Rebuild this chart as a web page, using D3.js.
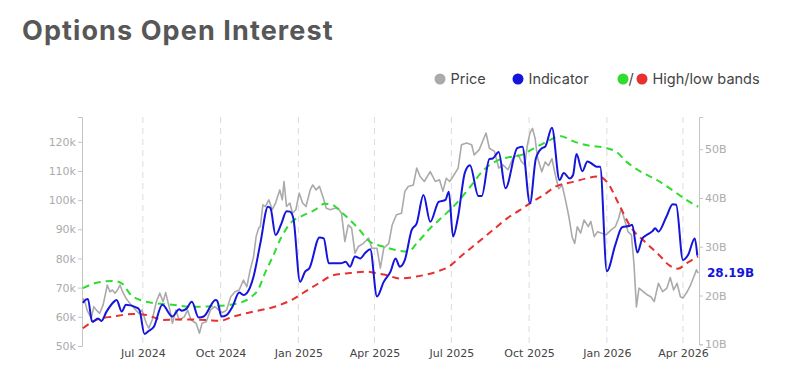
<!DOCTYPE html>
<html>
<head>
<meta charset="utf-8">
<script src="https://cdn.jsdelivr.net/npm/d3@7"></script>
<style>
  body { margin: 0; background: #fff; }
  svg { display: block; }
</style>
</head>
<body>
<div id="chart"></div>
<script>
// price (k USD, left axis)
const priceSeries = [
  ["2024-04-21",66.4],["2024-04-24",64.6],["2024-04-26",62.3],["2024-05-01",59.5],["2024-05-04",63.5],
  ["2024-05-07",62.3],["2024-05-11",61.2],["2024-05-15",64.1],["2024-05-20",70.9],["2024-05-23",68.6],
  ["2024-05-26",69.2],["2024-05-29",68.1],["2024-06-01",69.2],["2024-06-04",70.9],["2024-06-07",68.6],
  ["2024-06-11",66.4],["2024-06-17",64.1],["2024-06-21",62.9],["2024-06-26",61.2],["2024-06-30",62.3],
  ["2024-07-05",57.8],["2024-07-08",56.1],["2024-07-12",58.9],["2024-07-17",65.2],["2024-07-21",68.1],
  ["2024-07-25",65.2],["2024-07-28",68.3],["2024-08-02",62.3],["2024-08-05",57.8],["2024-08-09",62.3],
  ["2024-08-13",58.9],["2024-08-19",60.0],["2024-08-23",62.3],["2024-08-27",58.9],["2024-09-02",57.8],
  ["2024-09-06",54.4],["2024-09-09",57.8],["2024-09-14",58.3],["2024-09-19",62.3],["2024-09-24",63.5],
  ["2024-09-29",62.3],["2024-10-03",61.4],["2024-10-08",62.3],["2024-10-13",66.9],["2024-10-18",68.6],
  ["2024-10-23",69.2],["2024-10-28",72.6],["2024-11-01",70.3],["2024-11-05",76.1],["2024-11-09",80.6],
  ["2024-11-12",87.5],["2024-11-15",90.4],["2024-11-17",90.9],["2024-11-20",98.4],["2024-11-23",97.8],
  ["2024-11-27",100.1],["2024-12-01",96.7],["2024-12-05",99.0],["2024-12-10",103.5],["2024-12-13",100.1],
  ["2024-12-15",106.4],["2024-12-18",97.8],["2024-12-22",99.0],["2024-12-25",95.5],["2024-12-29",96.7],
  ["2025-01-02",102.4],["2025-01-06",99.0],["2025-01-10",97.8],["2025-01-15",103.5],["2025-01-18",105.2],
  ["2025-01-22",103.5],["2025-01-26",104.7],["2025-01-30",101.2],["2025-02-03",97.2],["2025-02-08",96.7],
  ["2025-02-13",97.2],["2025-02-17",97.2],["2025-02-21",95.5],["2025-02-25",85.8],["2025-03-01",91.5],
  ["2025-03-05",90.4],["2025-03-09",81.8],["2025-03-13",84.1],["2025-03-19",85.2],["2025-03-25",87.0],
  ["2025-03-29",83.5],["2025-04-04",83.5],["2025-04-08",76.7],["2025-04-12",83.5],["2025-04-18",85.2],
  ["2025-04-22",91.5],["2025-04-27",95.0],["2025-05-03",95.5],["2025-05-07",103.0],["2025-05-11",104.7],
  ["2025-05-17",105.2],["2025-05-21",111.0],["2025-05-25",108.1],["2025-05-30",106.4],["2025-06-06",109.8],
  ["2025-06-12",106.4],["2025-06-17",107.0],["2025-06-21",103.0],["2025-06-25",107.5],["2025-06-29",106.4],
  ["2025-07-03",108.1],["2025-07-09",111.0],["2025-07-13",119.0],["2025-07-19",119.6],["2025-07-25",119.0],
  ["2025-07-28",115.5],["2025-08-03",117.3],["2025-08-11",123.0],["2025-08-15",117.8],["2025-08-21",116.7],
  ["2025-08-26",111.0],["2025-08-31",112.1],["2025-09-06",110.4],["2025-09-12",114.5],["2025-09-18",115.5],
  ["2025-09-22",113.2],["2025-09-26",112.1],["2025-09-29",119.0],["2025-10-02",123.0],["2025-10-05",124.6],
  ["2025-10-08",121.3],["2025-10-11",114.5],["2025-10-16",109.7],["2025-10-20",113.1],["2025-10-24",111.8],
  ["2025-10-28",114.2],["2025-11-01",108.7],["2025-11-05",103.9],["2025-11-09",105.2],["2025-11-13",100.1],
  ["2025-11-17",94.4],["2025-11-21",87.2],["2025-11-24",85.2],["2025-11-27",90.9],["2025-12-01",88.7],
  ["2025-12-05",93.2],["2025-12-10",90.9],["2025-12-13",92.7],["2025-12-17",87.5],["2025-12-21",89.2],
  ["2025-12-25",88.7],["2025-12-31",88.1],["2026-01-06",89.8],["2026-01-11",90.9],["2026-01-15",93.8],
  ["2026-01-18",97.2],["2026-01-22",93.2],["2026-01-26",89.2],["2026-01-30",88.1],["2026-02-02",78.4],
  ["2026-02-05",63.4],["2026-02-08",69.8],["2026-02-13",68.6],["2026-02-18",67.5],["2026-02-22",66.9],
  ["2026-02-26",65.2],["2026-03-03",71.5],["2026-03-08",68.6],["2026-03-13",69.8],["2026-03-17",73.5],
  ["2026-03-21",69.2],["2026-03-25",71.5],["2026-03-29",66.9],["2026-04-01",66.4],["2026-04-06",68.6],
  ["2026-04-10",70.9],["2026-04-14",73.8],["2026-04-17",76.1],["2026-04-19",75.0]
];

// options open interest indicator (billions, right axis)
const indicatorSeries = [
  ["2024-04-21",18.5],["2024-04-25",19.2],["2024-04-27",19.3],["2024-05-02",14.6],["2024-05-09",15.3],
  ["2024-05-13",14.8],["2024-05-19",16.7],["2024-05-29",18.9],["2024-05-31",19.1],["2024-06-06",16.7],
  ["2024-06-11",18.1],["2024-06-25",17.4],["2024-06-27",17.0],["2024-07-03",12.1],["2024-07-07",12.6],
  ["2024-07-14",13.6],["2024-07-24",18.1],["2024-08-05",15.7],["2024-08-13",17.2],["2024-08-16",16.9],
  ["2024-08-21",17.2],["2024-08-28",18.7],["2024-09-05",15.5],["2024-09-11",15.7],["2024-09-25",19.1],
  ["2024-09-27",18.9],["2024-10-02",15.7],["2024-10-08",16.0],["2024-10-15",17.7],["2024-10-23",20.6],
  ["2024-10-28",20.1],["2024-11-01",20.5],["2024-11-09",23.9],["2024-11-17",30.7],["2024-11-26",38.2],
  ["2024-11-29",37.9],["2024-12-05",32.4],["2024-12-12",34.8],["2024-12-18",37.3],["2024-12-22",37.2],
  ["2024-12-26",35.9],["2025-01-03",22.8],["2025-01-09",24.9],["2025-01-14",25.6],["2025-01-26",31.9],
  ["2025-01-31",31.7],["2025-02-06",26.6],["2025-02-20",26.6],["2025-02-26",26.9],["2025-03-03",25.9],
  ["2025-03-09",28.0],["2025-03-15",27.6],["2025-03-21",28.7],["2025-03-27",29.5],["2025-04-04",19.8],
  ["2025-04-12",22.8],["2025-04-20",24.9],["2025-04-26",27.6],["2025-05-01",25.9],["2025-05-07",27.3],
  ["2025-05-15",33.4],["2025-05-21",34.8],["2025-05-29",40.6],["2025-06-06",35.1],["2025-06-16",39.2],
  ["2025-06-24",39.6],["2025-06-28",41.3],["2025-07-03",32.1],["2025-07-09",36.2],["2025-07-17",45.2],
  ["2025-07-23",46.7],["2025-08-02",40.4],["2025-08-06",40.4],["2025-08-15",48.0],["2025-08-19",48.1],
  ["2025-08-26",49.4],["2025-09-03",42.0],["2025-09-17",50.2],["2025-09-23",50.5],["2025-10-02",38.9],
  ["2025-10-09",48.1],["2025-10-16",50.2],["2025-10-20",50.5],["2025-10-28",54.4],["2025-11-06",43.7],
  ["2025-11-11",45.1],["2025-11-18",44.0],["2025-11-22",44.7],["2025-11-26",49.0],["2025-12-03",45.5],
  ["2025-12-09",47.5],["2025-12-16",46.8],["2025-12-20",46.4],["2025-12-24",46.4],["2026-01-01",25.0],
  ["2026-01-11",30.4],["2026-01-19",34.0],["2026-01-28",34.3],["2026-01-31",34.5],["2026-02-06",28.8],
  ["2026-02-12",31.7],["2026-02-17",32.4],["2026-02-24",33.2],["2026-02-27",33.8],["2026-03-03",33.1],
  ["2026-03-12",36.0],["2026-03-20",38.7],["2026-03-24",38.6],["2026-04-01",27.3],["2026-04-07",28.3],
  ["2026-04-15",31.7],["2026-04-18",28.19]
];

const highBand = [
  ["2024-04-21",21.5],["2024-05-05",22.5],["2024-05-27",23.0],["2024-06-06",22.5],["2024-06-17",20.1],
  ["2024-07-01",18.9],["2024-07-17",18.4],["2024-08-05",18.1],["2024-08-29",17.7],["2024-09-22",17.8],
  ["2024-10-12",18.1],["2024-10-24",18.5],["2024-11-07",19.8],["2024-11-14",21.1],["2024-11-23",24.8],
  ["2024-12-01",27.7],["2024-12-12",32.0],["2024-12-24",35.1],["2025-01-05",36.3],["2025-01-20",37.5],
  ["2025-02-01",38.8],["2025-02-10",38.6],["2025-02-22",36.9],["2025-03-11",34.1],["2025-03-27",31.0],
  ["2025-04-12",30.0],["2025-04-27",29.3],["2025-05-11",29.0],["2025-05-21",30.7],["2025-06-06",33.8],
  ["2025-06-21",36.2],["2025-07-07",38.9],["2025-07-23",42.2],["2025-08-08",45.7],["2025-08-25",47.7],
  ["2025-09-08",48.4],["2025-09-20",48.7],["2025-10-06",50.1],["2025-10-26",51.9],["2025-11-06",52.7],
  ["2025-11-24",51.5],["2025-12-09",50.8],["2026-01-01",50.2],["2026-01-11",49.6],["2026-01-25",47.3],
  ["2026-02-09",45.5],["2026-03-01",43.7],["2026-03-22",41.3],["2026-04-05",39.6],["2026-04-19",38.2]
];

const lowBand = [
  ["2024-04-21",13.3],["2024-05-07",15.0],["2024-05-27",15.7],["2024-06-19",16.2],["2024-07-05",16.0],
  ["2024-07-25",15.0],["2024-08-17",15.1],["2024-09-14",15.0],["2024-09-30",14.8],["2024-10-16",15.7],
  ["2024-11-09",16.7],["2024-12-04",17.7],["2024-12-24",19.1],["2025-01-09",20.8],["2025-01-25",22.5],
  ["2025-02-12",24.2],["2025-03-03",24.6],["2025-03-23",24.9],["2025-04-02",24.6],["2025-04-15",24.2],
  ["2025-05-01",23.5],["2025-05-21",23.9],["2025-06-14",24.9],["2025-06-28",25.9],["2025-07-12",28.0],
  ["2025-07-31",30.7],["2025-08-19",33.4],["2025-09-08",36.2],["2025-09-20",37.5],["2025-10-02",38.9],
  ["2025-10-18",40.6],["2025-11-01",42.3],["2025-11-22",43.3],["2025-12-23",44.4],["2026-01-01",43.3],
  ["2026-01-15",38.8],["2026-01-29",34.1],["2026-02-17",30.7],["2026-03-05",28.1],["2026-03-15",26.3],
  ["2026-03-26",25.5],["2026-04-06",26.7],["2026-04-19",28.0]
];

const priceTicks = [50, 60, 70, 80, 90, 100, 110, 120];
const oiTicks = [10, 20, 30, 40, 50];
const lastLabel = "28.19B";

const legendItems = [
  { label: "Price", colors: ["#aaaaaa"] },
  { label: "Indicator", colors: ["#1414dc"] },
  { label: "High/low bands", colors: ["#2fdc2f", "#e8302e"] }
];

const width = 786, height = 377;
const parse = d3.timeParse("%Y-%m-%d");

const svg = d3.select("#chart").append("svg")
  .attr("width", width)
  .attr("height", height);

svg.append("text")
  .attr("x", 22)
  .attr("y", 40)
  .attr("font-family", "Inter, 'Noto Sans', sans-serif")
  .attr("font-size", 27)
  .attr("font-weight", 700)
  .attr("letter-spacing", 1.1)
  .attr("fill", "#575757")
  .text("Options Open Interest");

// scales
const x = d3.scaleTime()
  .domain([parse("2024-04-20"), parse("2026-04-20")])
  .range([82, 699]);
const yPrice = d3.scaleLinear().domain([50, 128.5]).range([346, 117]);
const yOI = d3.scaleLinear().domain([10, 56.6]).range([344.3, 117]);

// vertical dashed grid
const quarters = x.ticks(d3.timeMonth.every(3));
svg.append("g")
  .selectAll("line")
  .data(quarters)
  .enter().append("line")
  .attr("x1", d => x(d)).attr("x2", d => x(d))
  .attr("y1", 117).attr("y2", 346)
  .attr("stroke", "#dcdcdc")
  .attr("stroke-width", 1)
  .attr("stroke-dasharray", "6,5");

// x axis labels
const xAxis = svg.append("g")
  .attr("transform", "translate(0,346)")
  .call(d3.axisBottom(x).tickValues(quarters).tickFormat(d3.timeFormat("%b %Y")).tickSize(0).tickPadding(3));
xAxis.select(".domain").remove();
xAxis.selectAll("text")
  .attr("font-family", "'DejaVu Sans', sans-serif")
  .attr("font-size", 11)
  .attr("fill", "#444");

// left axis
const leftAxis = svg.append("g")
  .attr("transform", "translate(82,0)")
  .call(d3.axisLeft(yPrice).tickValues(priceTicks).tickFormat(d => d + "k").tickSize(4).tickPadding(2));
leftAxis.select(".domain").attr("stroke", "#c4c4c4");
leftAxis.selectAll(".tick line").attr("stroke", "#c4c4c4");
leftAxis.selectAll("text")
  .attr("font-family", "'DejaVu Sans', sans-serif")
  .attr("font-size", 11)
  .attr("fill", "#ababab");

// right axis
const rightAxis = svg.append("g")
  .attr("transform", "translate(699,0)")
  .call(d3.axisRight(yOI).tickValues(oiTicks).tickFormat(d => d + "B").tickSize(4).tickPadding(2));
rightAxis.select(".domain").attr("stroke", "#c4c4c4");
rightAxis.selectAll(".tick line").attr("stroke", "#c4c4c4");
rightAxis.selectAll("text")
  .attr("font-family", "'DejaVu Sans', sans-serif")
  .attr("font-size", 11)
  .attr("fill", "#ababab");

const priceLine = d3.line()
  .x(d => x(parse(d[0])))
  .y(d => yPrice(d[1]));
const oiLine = d3.line()
  .x(d => x(parse(d[0])))
  .y(d => yOI(d[1]))
  .curve(d3.curveMonotoneX);

svg.append("path")
  .datum(priceSeries)
  .attr("d", priceLine)
  .attr("fill", "none")
  .attr("stroke", "#aaaaaa")
  .attr("stroke-width", 1.6)
  .attr("stroke-linejoin", "round");

svg.append("path")
  .datum(highBand)
  .attr("d", oiLine)
  .attr("fill", "none")
  .attr("stroke", "#2fdc2f")
  .attr("stroke-width", 2)
  .attr("stroke-dasharray", "7,5");

svg.append("path")
  .datum(lowBand)
  .attr("d", oiLine)
  .attr("fill", "none")
  .attr("stroke", "#e8302e")
  .attr("stroke-width", 2)
  .attr("stroke-dasharray", "7,5");

svg.append("path")
  .datum(indicatorSeries)
  .attr("d", oiLine)
  .attr("fill", "none")
  .attr("stroke", "#1414dc")
  .attr("stroke-width", 2)
  .attr("stroke-linejoin", "round");

// last value label
const last = indicatorSeries[indicatorSeries.length - 1];
svg.append("text")
  .attr("x", 707)
  .attr("y", yOI(last[1]) + 17)
  .attr("dy", "0.35em")
  .attr("font-family", "'DejaVu Sans', sans-serif")
  .attr("font-size", 12)
  .attr("font-weight", 700)
  .attr("fill", "#1414dc")
  .text(lastLabel);

// legend
const legendX = [434, 512, 617];
const legend = svg.selectAll(".legend")
  .data(legendItems)
  .enter().append("g")
  .attr("class", "legend")
  .attr("transform", (d, i) => "translate(" + legendX[i] + ",79)");

legend.each(function (d) {
  const g = d3.select(this);
  let cx = 6;
  d.colors.forEach((c, k) => {
    if (k > 0) {
      g.append("text")
        .attr("x", cx - 0.5)
        .attr("y", 0)
        .attr("dy", "0.35em")
        .attr("font-family", "Inter, sans-serif")
        .attr("font-size", 14.5)
        .attr("fill", "#444")
        .text("/");
      cx += 13;
    }
    g.append("circle")
      .attr("cx", cx)
      .attr("cy", 0)
      .attr("r", 5.5)
      .attr("fill", c);
    cx += 6;
  });
  g.append("text")
    .attr("x", cx + 4.5)
    .attr("y", 0)
    .attr("dy", "0.35em")
    .attr("font-family", "Inter, sans-serif")
    .attr("font-size", 14.5)
    .attr("fill", "#444")
    .text(d.label);
});
</script>
</body>
</html>
